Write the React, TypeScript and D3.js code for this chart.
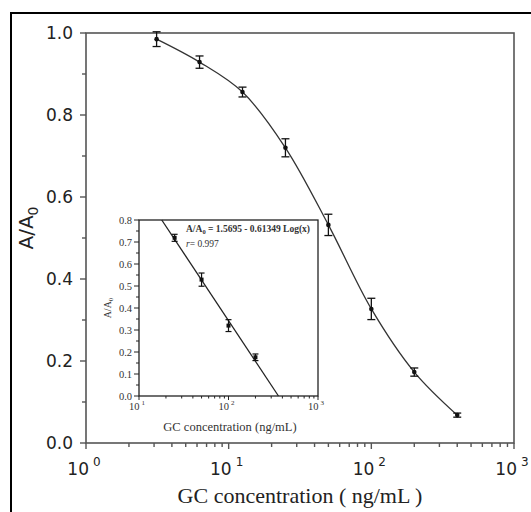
import * as d3 from "d3";
import React from "react";

// main curve data (GC concentration in ng/mL vs A/A0)
const conc = [3.125, 6.25, 12.5, 25, 50, 100, 200, 400];
const ratio = [0.985, 0.929, 0.856, 0.72, 0.532, 0.327, 0.173, 0.068];
const ratioErr = [0.018, 0.015, 0.012, 0.022, 0.026, 0.026, 0.01, 0.005];

// inset (linear range)
const insetConc = [25, 50, 100, 200];
const insetRatio = [0.719, 0.529, 0.32, 0.176];
const insetErr = [0.016, 0.03, 0.027, 0.015];
const fitA = 1.5695;
const fitB = 0.61349;

const yTicks = [0, 0.2, 0.4, 0.6, 0.8, 1.0];
const yMinor = [0.1, 0.3, 0.5, 0.7, 0.9];
const xDecades = [1, 10, 100, 1000];
const insetYTicks = [0, 0.1, 0.2, 0.3, 0.4, 0.5, 0.6, 0.7, 0.8];
const insetDecades = [10, 100, 1000];

const W = 531;
const H = 512;

const minorLog = (lo: number, hi: number) => {
  const out: number[] = [];
  for (let d = lo; d < hi; d *= 10) {
    for (let k = 2; k <= 9; k++) out.push(d * k);
  }
  return out;
};

const App = () => {
  // main scales
  const x = d3.scaleLog().domain([1, 1000]).range([86, 514]);
  const y = d3.scaleLinear().domain([0, 1]).range([443, 33]);

  // inset scales
  const ix = d3.scaleLog().domain([10, 1000]).range([139, 318]);
  const iy = d3.scaleLinear().domain([0, 0.8]).range([396, 220]);

  const pts = conc.map((c, i) => [x(c), y(ratio[i])] as [number, number]);
  const curve = d3.line().curve(d3.curveCatmullRom.alpha(0.5))(pts) || "";

  // fitted line clipped to inset box
  const lx0 = Math.pow(10, (fitA - 0.8) / fitB);
  const lx1 = Math.pow(10, fitA / fitB);
  const fitLine = d3.line()([
    [ix(lx0), iy(0.8)],
    [ix(lx1), iy(0)],
  ]) || "";

  const axisColor = "#555";
  const sans = "'DejaVu Sans', Arial, sans-serif";
  const serif = "'Liberation Serif', 'Times New Roman', serif";

  return (
    <svg width={W} height={H} style={{ position: "absolute", left: 0, top: 0, background: "#fff" }}>
      {/* outer border */}
      <rect x={11} y={13} width={W} height={H} fill="none" stroke="#000" strokeWidth={2} />

      {/* main frame */}
      <rect x={86} y={33} width={514 - 86} height={443 - 33} fill="none" stroke={axisColor} strokeWidth={1.6} />

      {/* y ticks */}
      {yTicks.map((t) => (
        <g key={"yt" + t}>
          <line x1={80} x2={86} y1={y(t)} y2={y(t)} stroke={axisColor} strokeWidth={1.4} />
          <text x={73} y={y(t) + 6} textAnchor="end" fontFamily={sans} fontSize={17} fill="#222">
            {t.toFixed(1)}
          </text>
        </g>
      ))}
      {yMinor.map((t) => (
        <line key={"ym" + t} x1={82} x2={86} y1={y(t)} y2={y(t)} stroke={axisColor} strokeWidth={1.4} />
      ))}

      {/* x ticks */}
      {xDecades.map((d, i) => (
        <g key={"xt" + d}>
          <line x1={x(d)} x2={x(d)} y1={443} y2={449} stroke={axisColor} strokeWidth={1.4} />
          <text x={x(d) - 2} y={475} textAnchor="middle" fontFamily={sans} fontSize={17} fill="#222">
            10
            <tspan dx={4} dy={-9} fontSize={12}>{i}</tspan>
          </text>
        </g>
      ))}
      {minorLog(1, 1000).map((m) => (
        <line key={"xm" + m} x1={x(m)} x2={x(m)} y1={443} y2={447} stroke={axisColor} strokeWidth={1.4} />
      ))}

      {/* axis titles */}
      <text
        transform="translate(33,228) rotate(-90)"
        textAnchor="middle"
        fontFamily={sans}
        fontSize={20}
        fill="#222"
      >
        A/A<tspan dy={5} fontSize={14}>0</tspan>
      </text>
      <text x={300} y={503} textAnchor="middle" fontFamily={serif} fontSize={22} fill="#222">
        GC concentration ( ng/mL )
      </text>

      {/* main curve */}
      <path d={curve} fill="none" stroke="#333" strokeWidth={1.3} />
      {conc.map((c, i) => {
        const cx = x(c);
        const top = y(ratio[i] + ratioErr[i]);
        const bot = y(ratio[i] - ratioErr[i]);
        return (
          <g key={"p" + c} stroke="#111" strokeWidth={1.3}>
            <line x1={cx} x2={cx} y1={top} y2={bot} />
            <line x1={cx - 4} x2={cx + 4} y1={top} y2={top} />
            <line x1={cx - 4} x2={cx + 4} y1={bot} y2={bot} />
            <circle cx={cx} cy={y(ratio[i])} r={2.3} fill="#111" stroke="none" />
          </g>
        );
      })}

      {/* inset */}
      <rect x={139} y={220} width={318 - 139} height={396 - 220} fill="#fff" stroke="#222" strokeWidth={1.3} />
      {insetYTicks.map((t) => (
        <g key={"iyt" + t}>
          <line x1={134} x2={139} y1={iy(t)} y2={iy(t)} stroke="#222" strokeWidth={1} />
          <text x={132} y={iy(t) + 3.5} textAnchor="end" fontFamily={serif} fontSize={10.5} fill="#333">
            {t.toFixed(1)}
          </text>
        </g>
      ))}
      {insetYTicks.slice(0, -1).map((t) => (
        <line key={"iym" + t} x1={136} x2={139} y1={iy(t + 0.05)} y2={iy(t + 0.05)} stroke="#222" strokeWidth={1} />
      ))}
      {insetDecades.map((d, i) => (
        <g key={"ixt" + d}>
          <line x1={ix(d)} x2={ix(d)} y1={396} y2={400} stroke="#222" strokeWidth={1} />
          <text x={ix(d) - 2} y={410} textAnchor="middle" fontFamily={serif} fontSize={10.5} fill="#333">
            10
            <tspan dx={2} dy={-5} fontSize={7}>{i + 1}</tspan>
          </text>
        </g>
      ))}
      {minorLog(10, 1000).map((m) => (
        <line key={"ixm" + m} x1={ix(m)} x2={ix(m)} y1={396} y2={398.5} stroke="#222" strokeWidth={1} />
      ))}
      <text
        transform="translate(111,308) rotate(-90)"
        textAnchor="middle"
        fontFamily={serif}
        fontSize={10}
        fill="#333"
      >
        A/A<tspan dy={2} fontSize={7}>0</tspan>
      </text>
      <text x={230} y={431} textAnchor="middle" fontFamily={serif} fontSize={12.5} fill="#333">
        GC concentration (ng/mL)
      </text>
      <text x={186} y={232} fontFamily={serif} fontSize={9.5} fontWeight="bold" fill="#333">
        A/A<tspan dy={2} fontSize={6.5}>0</tspan>
        <tspan dy={-2}> = 1.5695 - 0.61349 Log(x)</tspan>
      </text>
      <text x={186} y={247} fontFamily={serif} fontSize={9.5} fill="#333">
        <tspan fontStyle="italic">r</tspan>= 0.997
      </text>

      <path d={fitLine} fill="none" stroke="#222" strokeWidth={1.3} />
      {insetConc.map((c, i) => {
        const cx = ix(c);
        const top = iy(insetRatio[i] + insetErr[i]);
        const bot = iy(insetRatio[i] - insetErr[i]);
        return (
          <g key={"ip" + c} stroke="#111" strokeWidth={1.2}>
            <line x1={cx} x2={cx} y1={top} y2={bot} />
            <line x1={cx - 3} x2={cx + 3} y1={top} y2={top} />
            <line x1={cx - 3} x2={cx + 3} y1={bot} y2={bot} />
            <rect x={cx - 2} y={iy(insetRatio[i]) - 2} width={4} height={4} fill="#111" stroke="none" />
          </g>
        );
      })}
    </svg>
  );
};

export default App;
